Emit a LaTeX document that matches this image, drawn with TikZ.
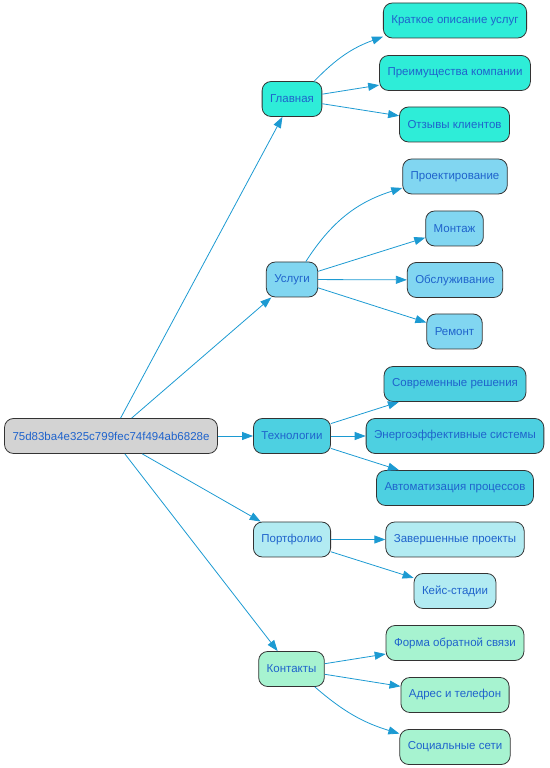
\documentclass[tikz,border=0pt]{standalone}
\usepackage{fontspec}
\setmainfont{Liberation Sans}
\usetikzlibrary{arrows.meta}

\definecolor{rootgray}{HTML}{D3D3D3}
\definecolor{glavcol}{HTML}{2EEDD8}
\definecolor{uslcol}{HTML}{81D6F1}
\definecolor{techcol}{HTML}{4DD0E1}
\definecolor{portcol}{HTML}{B2EBF2}
\definecolor{contcol}{HTML}{A7F3D0}
\definecolor{txtblue}{HTML}{1F63CC}
\definecolor{linkblue}{HTML}{1C9AD2}

\tikzset{
  box/.style={draw=black!80, line width=0.8pt, rounded corners=9pt,
    minimum height=35pt, inner xsep=8pt, text=txtblue,
    font=\fontsize{11.5}{13}\selectfont},
  rootbox/.style={box, fill=rootgray},
  glavbox/.style={box, fill=glavcol},
  uslbox/.style={box, fill=uslcol},
  techbox/.style={box, fill=techcol},
  portbox/.style={box, fill=portcol},
  contbox/.style={box, fill=contcol},
  link/.style={draw=linkblue, line width=0.8pt,
    -{Triangle[length=11pt,width=8pt]}}
}

\begin{document}
\begin{tikzpicture}[x=1pt,y=1pt]
    \useasboundingbox (0,0) rectangle (549,768);

    % Root
    \node[rootbox] (root) at (111,332) {75d83ba4e325c799fec74f494ab6828e};

    % Main sections
    \node[glavbox] (glav) at (292,669) {Главная};
    \node[uslbox]  (usl)  at (292,488.5) {Услуги};
    \node[techbox] (tech) at (292,332) {Технологии};
    \node[portbox] (port) at (292,228.5) {Портфолио};
    \node[contbox] (cont) at (291.5,99) {Контакты};

    % Главная
    \node[glavbox] (kratk) at (455,747.5) {Краткое описание услуг};
    \node[glavbox] (preim) at (455,695) {Преимущества компании};
    \node[glavbox] (otz)   at (454.5,643.5) {Отзывы клиентов};

    % Услуги
    \node[uslbox] (proekt) at (455,591.5) {Проектирование};
    \node[uslbox] (mont)   at (454.5,539.5) {Монтаж};
    \node[uslbox] (obsl)   at (455,488) {Обслуживание};
    \node[uslbox] (rem)    at (454.5,436.5) {Ремонт};

    % Технологии
    \node[techbox] (sovr)  at (455,384) {Современные решения};
    \node[techbox] (energ) at (455,332) {Энергоэффективные системы};
    \node[techbox] (avto)  at (455,280) {Автоматизация процессов};

    % Портфолио
    \node[portbox] (zaver) at (455,228.5) {Завершенные проекты};
    \node[portbox] (keis)  at (455,177) {Кейс-стадии};

    % Контакты
    \node[contbox] (forma) at (455,125) {Форма обратной связи};
    \node[contbox] (adres) at (455,73) {Адрес и телефон};
    \node[contbox] (soc)   at (455,21) {Социальные сети};

    % Links
    \foreach \t in {glav,usl,tech,port,cont} {
        \draw[link] (root) -- (\t);
    }
    \draw[link] (glav) to[bend left=13] (kratk);
    \draw[link] (usl) to[bend left=20] (proekt);
    \draw[link] (cont) to[bend right=12] (soc);
    \foreach \s/\t in {glav/preim,glav/otz,usl/mont,usl/obsl,usl/rem,
                       tech/sovr,tech/energ,tech/avto,port/zaver,port/keis,
                       cont/forma,cont/adres} {
        \draw[link] (\s) -- (\t);
    }
\end{tikzpicture}
\end{document}
